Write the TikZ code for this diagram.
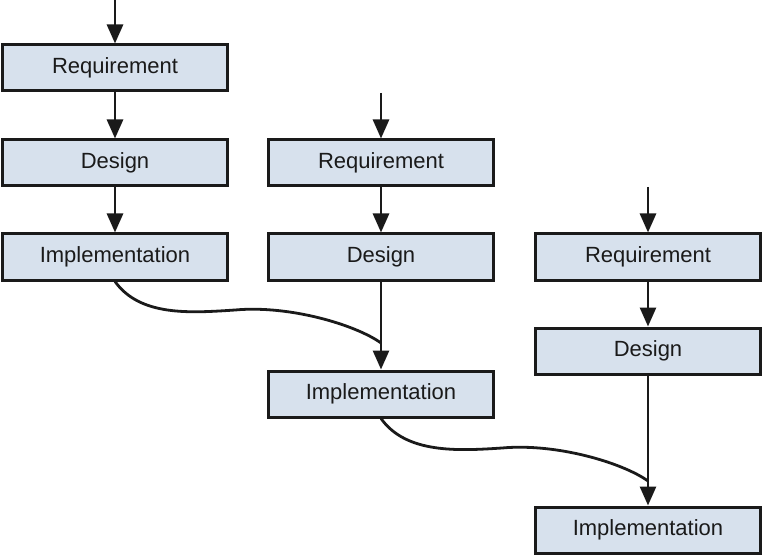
\documentclass[tikz,border=0pt]{standalone}
\usepackage{fontspec}
\setmainfont{Liberation Sans}
\usetikzlibrary{arrows.meta}
\definecolor{boxfill}{HTML}{D7E1ED}
\definecolor{ink}{HTML}{1A1A1A}
\begin{document}
\begin{tikzpicture}[x=1pt,y=-1pt,
  phase/.style={draw=ink,line width=3pt,fill=boxfill,minimum width=225pt,minimum height=46pt,inner sep=0pt,font=\fontsize{22}{26}\selectfont,text=ink},
  flow/.style={draw=ink,line width=2.8pt,-{Triangle[width=16pt,length=19pt]}},
  link/.style={draw=ink,line width=2.8pt}]
\useasboundingbox (0,0) rectangle (763,556);
% column 1
\node[phase] (r1) at (115,68) {Requirement};
\node[phase] (d1) at (115,163) {Design};
\node[phase] (i1) at (115,257) {Implementation};
% column 2
\node[phase] (r2) at (381,163) {Requirement};
\node[phase] (d2) at (381,257) {Design};
\node[phase] (i2) at (381,394) {Implementation};
% column 3
\node[phase] (r3) at (648,257) {Requirement};
\node[phase] (d3) at (648,351) {Design};
\node[phase] (i3) at (648,530) {Implementation};
% inputs
\coordinate (s1) at (115,0);
\coordinate (s2) at (381,93);
\coordinate (s3) at (648,187);
\draw[flow] (s1) -- (r1);
\draw[flow] (r1) -- (d1);
\draw[flow] (d1) -- (i1);
\draw[flow] (s2) -- (r2);
\draw[flow] (r2) -- (d2);
\draw[flow] (d2) -- (i2);
\draw[flow] (s3) -- (r3);
\draw[flow] (r3) -- (d3);
\draw[flow] (d3) -- (i3);
% wavy links
\coordinate (m1) at (235,310);
\coordinate (j1) at (381,343);
\coordinate (m2) at (502,448);
\coordinate (j2) at (648,481);
\draw[link] (i1.south) .. controls +(25,35) and +(-45,3) .. (m1) .. controls +(55,-5) and +(-25,-18) .. (j1);
\draw[link] (i2.south) .. controls +(25,35) and +(-45,3) .. (m2) .. controls +(55,-5) and +(-25,-18) .. (j2);
\end{tikzpicture}
\end{document}
